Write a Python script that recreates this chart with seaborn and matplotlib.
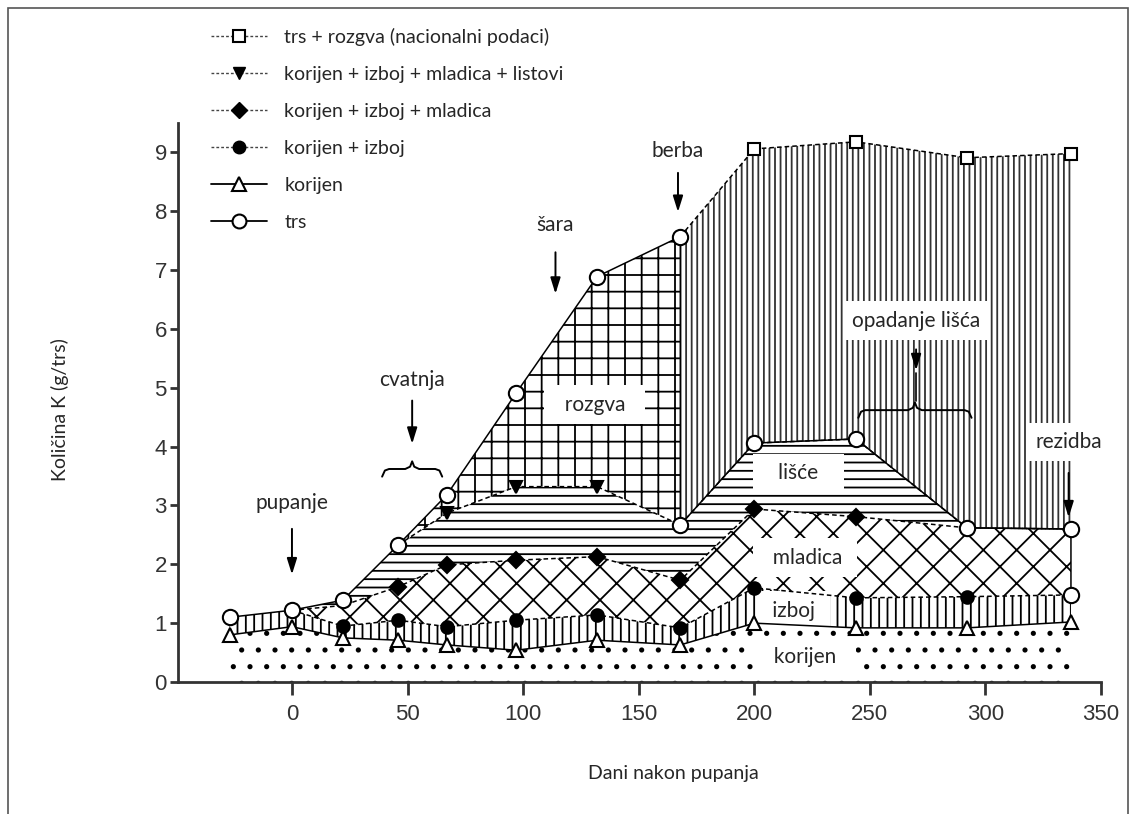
import numpy as np
import pandas as pd
import matplotlib
matplotlib.use("Agg")
import matplotlib.pyplot as plt
import seaborn as sns
from matplotlib.lines import Line2D
from matplotlib.patches import Rectangle

# podaci ocitani sa slike (dani nakon pupanja, K u g/trs)
dani = [-27, 0, 22, 46, 67, 97, 132, 168, 200, 244, 292, 337]
korijen = [0.80, 0.94, 0.75, 0.71, 0.63, 0.54, 0.71, 0.63, 1.00, 0.92, 0.92, 1.02]
izboj = [1.10, 1.22, 0.95, 1.05, 0.94, 1.05, 1.14, 0.92, 1.60, 1.43, 1.45, 1.48]
mladica = [1.10, 1.22, 1.30, 1.62, 1.99, 2.07, 2.13, 1.73, 2.94, 2.81, 2.62, 2.60]
listovi = [1.10, 1.22, 1.39, 2.33, 2.87, 3.32, 3.32, 2.67, 4.06, 4.13, 2.62, 2.60]

dani_trs = [-27, 0, 22, 46, 67, 97, 132, 168, 168, 200, 244, 292, 337, 337]
trs = [1.10, 1.22, 1.39, 2.33, 3.18, 4.91, 6.89, 7.57, 2.67, 4.06, 4.13, 2.62, 2.60, 1.48]

dani_nac = [168, 200, 244, 292, 337]
trs_rozgva = [7.57, 9.06, 9.18, 8.91, 8.98]

x_ticks = [0, 50, 100, 150, 200, 250, 300, 350]
y_ticks = list(range(10))

legenda = ["trs + rozgva (nacionalni podaci)",
           "korijen + izboj + mladica + listovi",
           "korijen + izboj + mladica",
           "korijen + izboj",
           "korijen",
           "trs"]

sns.set_theme(style="white")
plt.rcParams["font.family"] = ["Lato", "DejaVu Sans"]
plt.rcParams["hatch.linewidth"] = 1.3

W, H = 1135, 814
fig = plt.figure(figsize=(W / 100, H / 100), dpi=100)
fig.patch.set_facecolor("white")
ax = fig.add_axes([178 / W, (H - 682) / H, (1101 - 178) / W, (682 - 123) / H])
ax.set_facecolor("white")

n_pre = 8  # tocke do berbe
d = np.array(dani, dtype=float)

# slojevi (srafure)
ax.fill_between(d, 0, korijen, facecolor="white", edgecolor="black", hatch=".", lw=0, zorder=1)
ax.fill_between(d, korijen, izboj, facecolor="white", edgecolor="black", hatch="||", lw=0, zorder=1)
ax.fill_between(d, izboj, mladica, facecolor="white", edgecolor="black", hatch="x", lw=0, zorder=1)
ax.fill_between(d, mladica, listovi, facecolor="white", edgecolor="black", hatch="--", lw=0, zorder=1)
ax.fill_between(d[:n_pre], listovi[:n_pre], trs[:n_pre], facecolor="white", edgecolor="black",
                hatch="+", lw=0, zorder=1)
ax.fill_between(dani_nac, trs[n_pre:n_pre + 5], trs_rozgva, facecolor="white", edgecolor="#333333",
                hatch="|||", lw=0, zorder=1)


def linija(x, y, ls, marker, fc, ms, markevery=None, lw=1.1):
    sns.lineplot(x=x, y=y, ax=ax, color="black", linestyle=ls, lw=lw, marker=marker,
                 markevery=markevery, markersize=ms, markerfacecolor=fc,
                 markeredgecolor="black", markeredgewidth=1.5, sort=False,
                 estimator=None, legend=False, zorder=8)


linija(dani, korijen, "-", "^", "white", 10)
linija(dani[1:], izboj[1:], (0, (3, 2)), "o", "black", 9, markevery=list(range(1, 10)))
linija(dani[1:], mladica[1:], (0, (3, 2)), "D", "black", 8, markevery=list(range(2, 9)))
linija(dani[3:], listovi[3:], (0, (3, 2)), "v", "black", 9, markevery=[1, 2, 3])
linija(dani_nac, trs_rozgva, (0, (3, 2)), "s", "white", 9, markevery=[1, 2, 3, 4])
linija(dani_trs, trs, "-", "o", "white", 11)

ax.set_xlim(-49.3, 350)
ax.set_ylim(0, 9.5)
ax.set_xticks(x_ticks)
ax.set_yticks(y_ticks)
for s in ["top", "right"]:
    ax.spines[s].set_visible(False)
for s in ["left", "bottom"]:
    ax.spines[s].set_linewidth(2)
    ax.spines[s].set_color("#333333")
    ax.spines[s].set_zorder(9)
ax.tick_params(axis="x", direction="out", length=9, width=2, pad=7, labelsize=16,
               colors="#333333", bottom=True)
ax.tick_params(axis="y", direction="out", length=6, width=2, pad=2, labelsize=16,
               colors="#333333", left=True)
for lab in ax.get_xticklabels() + ax.get_yticklabels():
    lab.set_fontfamily(["Liberation Sans", "DejaVu Sans"])

# oznake slojeva (bijele podloge)
box = dict(boxstyle="square,pad=0.45", fc="white", ec="none")
for txt, x, y in [("  rozgva  ", 131, 4.71), ("   lišće   ", 219, 3.55), ("  mladica ", 222, 2.11),
                  (" izboj ", 217, 1.21), ("  korijen  ", 222, 0.43)]:
    ax.text(x, y, txt, ha="center", va="center", fontsize=15, bbox=box, zorder=7)

# fenofaze sa strelicama
arr = dict(arrowstyle="-|>,head_length=0.8,head_width=0.25", color="black", lw=1.4)
for txt, x, ty, y0, y1, boxed in [("pupanje", 0, 3.04, 2.65, 1.78, False),
                                  ("cvatnja", 52, 5.14, 4.83, 4.0, False),
                                  ("šara", 114, 7.76, 7.35, 6.55, False),
                                  ("berba", 167, 9.03, 8.7, 7.94, False),
                                  ("opadanje lišća", 270, 6.14, 5.7, 5.25, True),
                                  ("rezidba", 336, 4.08, 3.6, 2.75, True)]:
    ax.text(x, ty, txt, ha="center", va="center", fontsize=15,
            bbox=box if boxed else None, zorder=9)
    ax.annotate("", xy=(x, y1), xytext=(x, y0), arrowprops=arr, zorder=9)
ax.plot([270, 270], [5.25, 4.78], color="black", lw=1.2, zorder=9)


def zagrada(x0, x1, y, h=0.13, k=3):
    xm = (x0 + x1) / 2
    xs = [x0, x0 + k * 0.4, x0 + k, xm - k, xm - k * 0.3, xm, xm + k * 0.3, xm + k, x1 - k, x1 - k * 0.4, x1]
    ys = [y - h, y - h * 0.2, y, y, y + h * 0.3, y + h, y + h * 0.3, y, y, y - h * 0.2, y - h]
    ax.plot(xs, ys, color="black", lw=1.4, zorder=9)


zagrada(39, 65, 3.62)
zagrada(245, 294, 4.62)

# legenda
handles = [
    Line2D([], [], color="#444444", ls=(0, (2, 1.5)), lw=1, marker="s", ms=9, mfc="white", mec="black", mew=1.5),
    Line2D([], [], color="#444444", ls=(0, (2, 1.5)), lw=1, marker="v", ms=9, mfc="black", mec="black"),
    Line2D([], [], color="#444444", ls=(0, (2, 1.5)), lw=1, marker="D", ms=8, mfc="black", mec="black"),
    Line2D([], [], color="#444444", ls=(0, (2, 1.5)), lw=1, marker="o", ms=9, mfc="black", mec="black"),
    Line2D([], [], color="black", ls="-", lw=1.3, marker="^", ms=10, mfc="white", mec="black", mew=1.5),
    Line2D([], [], color="black", ls="-", lw=1.3, marker="o", ms=10, mfc="white", mec="black", mew=1.5),
]
fig.legend(handles, legenda, loc="upper left", bbox_to_anchor=(193 / W, 1 - 10 / H),
           frameon=False, fontsize=14, handlelength=2.9, handletextpad=0.9, labelspacing=1.03)

fig.text(60 / W, 1 - 410 / H, "Količina K (g/trs)", rotation=90, ha="center", va="center", fontsize=14)
fig.text(673 / W, 1 - 773 / H, "Dani nakon pupanja", ha="center", va="center", fontsize=14)

fig.add_artist(Rectangle((8 / W, -0.02), (1128 - 8) / W, (H - 8) / H + 0.02, transform=fig.transFigure,
                         fill=False, ec="#555555", lw=1.2))

fig.savefig("out.png", dpi=100, facecolor="white")
